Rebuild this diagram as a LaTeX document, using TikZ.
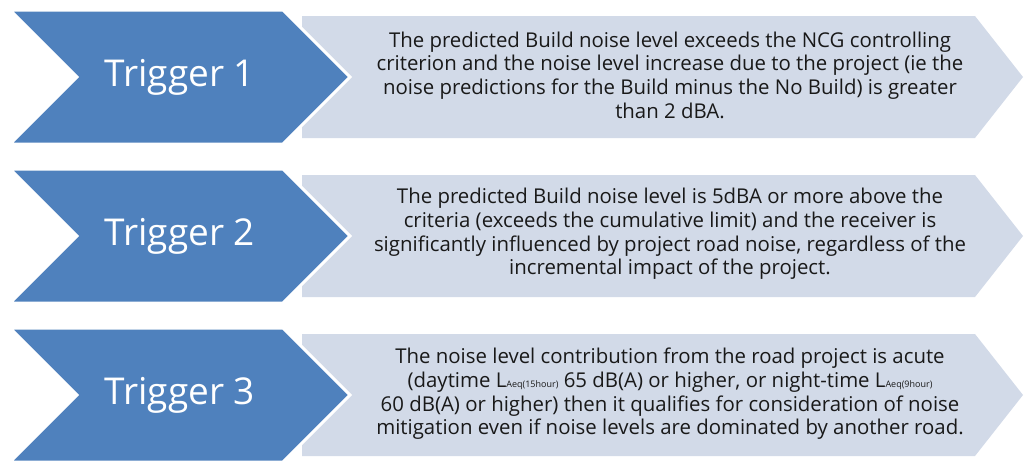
\documentclass[tikz,border=0pt]{standalone}
\usepackage{fontspec}
\setmainfont{Open Sans}
\definecolor{trigblue}{HTML}{4F81BD}
\definecolor{trigpale}{HTML}{D2DAE8}
\newcommand{\laeq}[1]{L{\fontsize{9}{9}\selectfont Aeq(#1)}}
\begin{document}
\begin{tikzpicture}[x=1pt, y=-1pt,
    chev/.style = {fill=trigblue, draw=white, line width=3pt, line join=miter},
    plate/.style = {fill=trigpale},
    label/.style = {text=white, font=\fontsize{37}{40}\selectfont},
    desc/.style = {align=center, text=black!90, font=\fontsize{20.4}{23.6}\selectfont}]
  \useasboundingbox (0,0) rectangle (1025,461);
  % three rows: pale arrow behind, blue chevron on top
  \foreach \y in {77,236,395} {
    \fill[plate] (302,\y-61) -- (975,\y-61) -- (1023,\y) -- (975,\y+61) -- (302,\y+61) -- cycle;
    \draw[chev] (10,\y-67) -- (283,\y-67) -- (350,\y) -- (283,\y+67) -- (10,\y+67) -- (77,\y) -- cycle;
  }
  \node[label] (t1) at (180,77) {Trigger 1};
  \node[label] (t2) at (180,236) {Trigger 2};
  \node[label] (t3) at (180,395) {Trigger 3};
  \node[desc] (d1) at (670,75) {The predicted Build noise level exceeds the NCG controlling\\
    criterion and the noise level increase due to the project (ie the\\
    noise predictions for the Build minus the No Build) is greater\\
    than 2 dBA.};
  \node[desc] (d2) at (670,234) {The predicted Build noise level is 5dBA or more above the\\
    criteria (exceeds the cumulative limit) and the receiver is\\
    significantly influenced by project road noise, regardless of the\\
    incremental impact of the project.};
  \node[desc] (d3) at (670,394) {The noise level contribution from the road project is acute\\
    (daytime \laeq{15hour} 65 dB(A) or higher, or night-time \laeq{9hour}\\
    60 dB(A) or higher) then it qualifies for consideration of noise\\
    mitigation even if noise levels are dominated by another road.};
\end{tikzpicture}
\end{document}
